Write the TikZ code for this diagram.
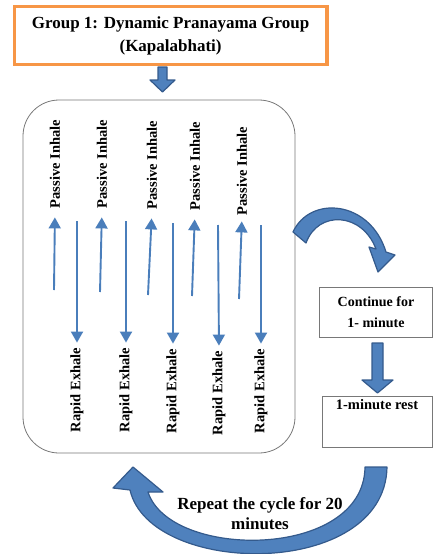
\documentclass[tikz,border=0pt]{standalone}
\usepackage{fontspec}
\setmainfont{Liberation Serif}
\usepackage{tikz}
\usetikzlibrary{positioning,arrows.meta}
\definecolor{orangeline}{RGB}{247,150,70}
\definecolor{arrfill}{RGB}{79,129,189}
\definecolor{arrline}{RGB}{52,90,140}
\definecolor{breathblue}{RGB}{74,126,187}
\definecolor{boxgray}{RGB}{120,120,120}

\begin{document}
\begin{tikzpicture}[x=1pt, y=-1pt, semithick,
        titlebox/.style = {draw=orangeline, line width=3.5pt, rectangle, align=center, font=\fontsize{17}{23}\selectfont\bfseries},
        roundbox/.style = {draw=boxgray, line width=0.8pt, rectangle, rounded corners=36pt},
        graybox/.style = {draw=boxgray, line width=0.7pt, rectangle, align=center, font=\fontsize{14}{21}\selectfont\bfseries},
        breathlbl/.style = {rotate=90, inner sep=0pt, font=\fontsize{14.5}{17}\selectfont\bfseries},
        breath/.style = {draw=breathblue, line width=1.9pt, -{Triangle[width=12pt,length=11pt]}},
        blockarr/.style = {fill=arrfill, draw=arrline, line width=1.2pt, line join=round}]
        \useasboundingbox (0,0) rectangle (433,554);

        \node[titlebox, minimum width=312.7pt, minimum height=58pt] (title) at (170.6,35.7) {Group 1: Dynamic Pranayama Group\\(Kapalabhati)};
        \node[roundbox, minimum width=272pt, minimum height=353pt] (cycle) at (159,276.5) {};
        \node[graybox, minimum width=113pt, minimum height=50pt] (cont) at (376,312) {Continue for\\1- minute};
        \node[graybox, minimum width=110pt, minimum height=51pt] (rest) at (377,421.5) {};
        \node[font=\fontsize{14.5}{17}\selectfont\bfseries, inner sep=0pt] (restlbl) [below=3pt of rest.north] {1-minute rest};
        \node[align=center, font=\fontsize{17}{20}\selectfont\bfseries] (repeat) at (260,514) {Repeat the cycle for 20\\minutes};

        % inhale labels
        \node[breathlbl] (pi1) at (55,164) {Passive Inhale};
        \node[breathlbl] (pi2) at (102,164) {Passive Inhale};
        \node[breathlbl] (pi3) at (152,165) {Passive Inhale};
        \node[breathlbl] (pi4) at (195,166) {Passive Inhale};
        \node[breathlbl] (pi5) at (242,171) {Passive Inhale};

        % exhale labels
        \node[breathlbl] (re1) at (77,390) {Rapid Exhale};
        \node[breathlbl] (re2) at (126,390) {Rapid Exhale};
        \node[breathlbl] (re3) at (173,391) {Rapid Exhale};
        \node[breathlbl] (re4) at (219,393) {Rapid Exhale};
        \node[breathlbl] (re5) at (261,391) {Rapid Exhale};

        \coordinate (pb1) at (54,290);
        \coordinate (pb2) at (100,292);
        \coordinate (pb3) at (148,295);
        \coordinate (pb4) at (192,296);
        \coordinate (pb5) at (239,299);

        \coordinate (rt1) at (77,221);
        \coordinate (rt2) at (126,221);
        \coordinate (rt3) at (173,223);
        \coordinate (rt4) at (218,225);
        \coordinate (rt5) at (261,225);

        \draw[breath, shorten >=9pt] (pb1) -- (pi1.west);
        \draw[breath, shorten >=9pt] (pb2) -- (pi2.west);
        \draw[breath, shorten >=9pt] (pb3) -- (pi3.west);
        \draw[breath, shorten >=9pt] (pb4) -- (pi4.west);
        \draw[breath, shorten >=6pt] (pb5) -- (pi5.west);

        \draw[breath, shorten >=5pt] (rt1) -- (re1.east);
        \draw[breath, shorten >=5pt] (rt2) -- (re2.east);
        \draw[breath, shorten >=5pt] (rt3) -- (re3.east);
        \draw[breath, shorten >=5pt] (rt4) -- (re4.east);
        \draw[breath, shorten >=5pt] (rt5) -- (re5.east);

        % block arrows
        \draw[blockarr] (158,67) -- (167,67) -- (167,80) -- (175,80) -- (162.5,92) -- (150,80) -- (158,80) -- cycle;
        \draw[blockarr] (372,343) -- (383,343) -- (383,380) -- (393,380) -- (377.5,393) -- (362,380) -- (372,380) -- cycle;

        % curved arrow to the right boxes
        \draw[blockarr] (293,232) .. controls (310,195) and (370,200) .. (386,252)
            -- (395,255) -- (378,272) -- (369,247) -- (376,249)
            .. controls (362,212) and (318,210) .. (306,243) -- cycle;

        % curved arrow back to the start
        \draw[blockarr] (387,467) .. controls (385,580) and (150,577) .. (130,490)
            -- (113,488) -- (133,467) -- (163,492) -- (148,492)
            .. controls (170,560) and (364,560) .. (365,467) -- cycle;
    \end{tikzpicture}
\end{document}
